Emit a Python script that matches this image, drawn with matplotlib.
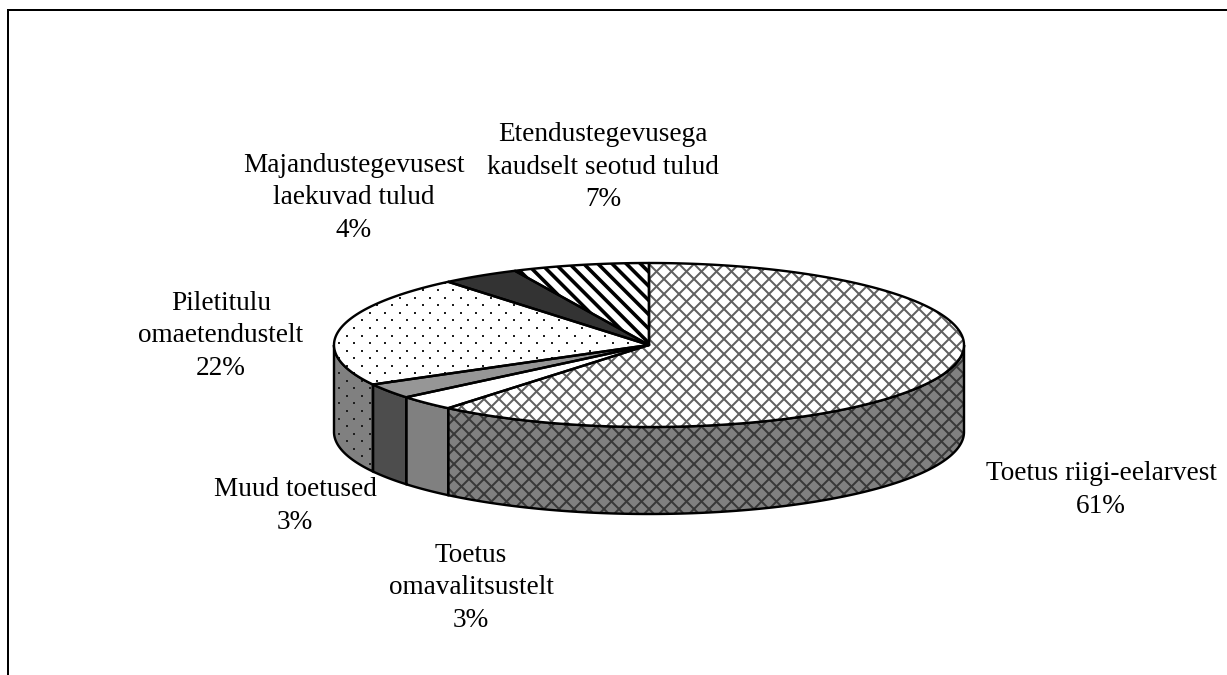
import numpy as np
import matplotlib
matplotlib.use("Agg")
import matplotlib.pyplot as plt
from matplotlib.patches import Polygon
from matplotlib.collections import LineCollection

labels = ["Toetus riigi-eelarvest", "Toetus\nomavalitsustelt", "Muud toetused",
          "Piletitulu\nomaetendustelt", "Majandustegevusest\nlaekuvad tulud",
          "Etendustegevusega\nkaudselt seotud tulud"]
values = [61, 3, 3, 22, 4, 7]
top_colors = ["white", "white", "#969696", "white", "#333333", "white"]
side_colors = ["#808080", "#808080", "#4d4d4d", "#808080", "#1a1a1a", "#808080"]
patterns = ["cross", None, None, "dots", None, "stripes"]
label_xy = [(1101, 490), (471, 588), (295, 506), (221, 336), (354, 198), (603, 167)]

W, H = 1227, 675
CX, CY, RX, RY, DEPTH = 649, 345, 315, 82, 87

fig = plt.figure(figsize=(W / 100, H / 100), dpi=100)
ax = fig.add_axes([0, 0, 1, 1])
ax.set_xlim(0, W)
ax.set_ylim(H, 0)
ax.axis("off")
PX = 0.72


def rim(a1, a2, dy=0.0):
    t = np.radians(np.linspace(a1, a2, 200))
    return np.column_stack([CX + RX * np.sin(t), CY + dy - RY * np.cos(t)])


def diag_hatch(clip, spacing, anchors, slopes, lw, color, zorder):
    segs = []
    for s, a in zip(slopes, anchors):
        for c in a + spacing * np.arange(-200, 201):
            segs.append([(0, c), (W, s * W + c)])
    lc = LineCollection(segs, linewidths=lw * PX, colors=color, zorder=zorder)
    ax.add_collection(lc, autolim=False)
    lc.set_clip_path(clip)


def dot_hatch(clip, color, zorder):
    xs, ys = [], []
    for i, y in enumerate(np.arange(260, 520, 7.55)):
        x0 = 346.7 if i % 2 == 0 else 346.7 + 7.6
        for x in np.arange(x0 - 15.2 * 3, 700, 15.2):
            xs.append(x)
            ys.append(y)
    sc = ax.scatter(xs, ys, s=3.2, c=color, marker="s", linewidths=0, zorder=zorder)
    sc.set_clip_path(clip)


angles = np.cumsum([0] + values) / sum(values) * 360
EDGE = 2.4 * PX

for i, v in enumerate(values):
    a1, a2 = angles[i], angles[i + 1]
    # visible front side between 90 and 270 degrees clockwise from 12 o'clock
    s1, s2 = max(a1, 90), min(a2, 270)
    if s2 > s1:
        pts = np.vstack([rim(s1, s2), rim(s2, s1, DEPTH)])
        side = Polygon(pts, closed=True, fc=side_colors[i], ec="none", zorder=2)
        ax.add_patch(side)
        if patterns[i] == "cross":
            diag_hatch(side, 15.0, [-260, 1188], [1, -1], 2.0, "#383838", 3)
        elif patterns[i] == "dots":
            dot_hatch(side, "#202020", 3)
        ax.add_patch(Polygon(pts, closed=True, fc="none", ec="black", lw=EDGE, zorder=4))
    pts = np.vstack([[(CX, CY)], rim(a1, a2)])
    top = Polygon(pts, closed=True, fc=top_colors[i], ec="none", zorder=5)
    ax.add_patch(top)
    if patterns[i] == "cross":
        diag_hatch(top, 15.0, [-400, 1048], [1, -1], 2.0, "#606060", 6)
    elif patterns[i] == "dots":
        dot_hatch(top, "#202020", 6)
    elif patterns[i] == "stripes":
        diag_hatch(top, 14.2, [-320], [1], 3.6, "black", 6)
    ax.add_patch(Polygon(pts, closed=True, fc="none", ec="black", lw=EDGE, zorder=7, joinstyle="round"))

for name, v, (x, y) in zip(labels, values, label_xy):
    ax.text(x, y, f"{name}\n{v}%", ha="center", va="center", family="Liberation Serif",
            fontsize=19.6, linespacing=1.39, color="black", zorder=8)

ax.plot([7.5, 7.5, W], [H, 9.5, 9.5], color="black", lw=2 * PX, zorder=8, solid_joinstyle="miter")

fig.savefig("out.png", dpi=100, facecolor="white")
